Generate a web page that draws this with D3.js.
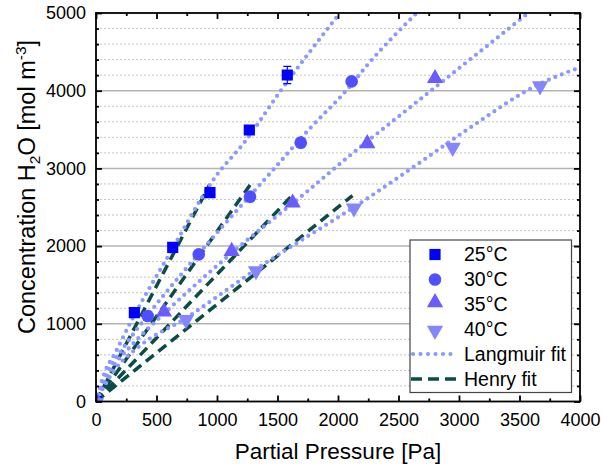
<!DOCTYPE html>
<html>
<head>
<meta charset="utf-8">
<script src="https://cdn.jsdelivr.net/npm/d3@7"></script>
<style>
  body { margin: 0; background: #fff; }
  svg text { font-family: "Liberation Sans", Arial, sans-serif; fill: #000; }
</style>
</head>
<body>
<div id="plot"></div>
<script>
// measured points [pressure Pa, concentration mol/m3]
const series = ["25°C", "30°C", "35°C", "40°C"];
const pts25 = [[0, 0], [317, 1143], [634, 1984], [942, 2688], [1267, 3494], [1581, 4202]];
const pts30 = [[0, 0], [427, 1100], [849, 1894], [1273, 2636], [1692, 3331], [2113, 4120]];
const pts35 = [[0, 0], [562, 1135], [1121, 1915], [1625, 2538], [2242, 3301], [2802, 4140]];
const pts40 = [[0, 0], [744, 1071], [1322, 1701], [2132, 2507], [2948, 3288], [3670, 4080]];
const err25 = [0, 0, 0, 0, 0, 110];

// Langmuir fit
const lang25 = [[0, 0], [74, 384], [157, 620], [281, 1006], [600, 1880], [992, 2902], [1231, 3344], [1521, 3988], [2003, 4974]];
const lang30 = [[0, 0], [100, 400], [230, 700], [427, 1110], [849, 1900], [1438, 2936], [1769, 3516], [2072, 4009], [2250, 4344], [2650, 5000]];
const lang35 = [[0, 0], [120, 400], [280, 700], [562, 1130], [1121, 1910], [1727, 2680], [2113, 3185], [2540, 3717], [2948, 4224], [3573, 5000]];
const lang40 = [[0, 0], [150, 400], [350, 700], [744, 1075], [1322, 1700], [2264, 2636], [2636, 3031], [3063, 3494], [3670, 4090], [4000, 4300]];

// Henry fit, straight lines from the origin
const henry25 = [[0, 0], [937, 2786]];
const henry30 = [[0, 0], [1273, 2786]];
const henry35 = [[0, 0], [1620, 2650]];
const henry40 = [[0, 0], [2120, 2650]];

const xTicks = [0, 500, 1000, 1500, 2000, 2500, 3000, 3500, 4000];
const yTicks = [0, 1000, 2000, 3000, 4000, 5000];

const colors = ["#0000ff", "#4f4fff", "#6a5cff", "#8585ff"];
const langColor = "#8a98ff";
const henryColor = "#0b4c47";

const w = 601, h = 469;
const mLeft = 96, mRight = 580, mTop = 13, mBottom = 401.5;
const font = "'Liberation Sans', Arial, sans-serif";

const svg = d3.select("#plot").append("svg")
  .attr("width", w).attr("height", h);

const x = d3.scaleLinear().domain([0, 4000]).range([mLeft, mRight]);
const y = d3.scaleLinear().domain([0, 5000]).range([mBottom, mTop]);

svg.append("clipPath").attr("id", "clip")
  .append("rect").attr("x", mLeft).attr("y", mTop)
  .attr("width", mRight - mLeft).attr("height", mBottom - mTop);

// grid
const minorY = d3.range(200, 5000, 200).filter(v => v % 1000 !== 0);
svg.append("g").selectAll("line").data(minorY).enter().append("line")
  .attr("x1", mLeft).attr("x2", mRight)
  .attr("y1", d => y(d)).attr("y2", d => y(d))
  .attr("stroke", "#c4c4c4").attr("stroke-width", 1)
  .attr("stroke-dasharray", "2 2");
svg.append("g").selectAll("line").data([1000, 2000, 3000, 4000]).enter().append("line")
  .attr("x1", mLeft).attr("x2", mRight)
  .attr("y1", d => y(d)).attr("y2", d => y(d))
  .attr("stroke", "#b4b4b4").attr("stroke-width", 1.5);

const plot = svg.append("g").attr("clip-path", "url(#clip)");
const line = d3.line().x(d => x(d[0])).y(d => y(d[1]));
const curve = d3.line().x(d => x(d[0])).y(d => y(d[1])).curve(d3.curveMonotoneX);

[henry25, henry30, henry35, henry40].forEach(d => {
  plot.append("path").attr("d", line(d))
    .attr("fill", "none").attr("stroke", henryColor)
    .attr("stroke-width", 3.5).attr("stroke-dasharray", "10 6");
});
[lang25, lang30, lang35, lang40].forEach(d => {
  plot.append("path").attr("d", curve(d))
    .attr("fill", "none").attr("stroke", langColor)
    .attr("stroke-width", 4.2).attr("stroke-linecap", "round")
    .attr("stroke-dasharray", "0 7");
});

// markers
const symbols = [d3.symbolSquare, d3.symbolCircle, d3.symbolTriangle, d3.symbolTriangle];
const sizes = [125, 125, 115, 115];
function marker(g, i, cx, cy) {
  const p = g.append("path")
    .attr("d", d3.symbol().type(symbols[i]).size(sizes[i])())
    .attr("fill", colors[i]);
  if (i === 3) p.attr("transform", `translate(${cx},${cy + 1.5}) rotate(180)`);
  else if (i === 2) p.attr("transform", `translate(${cx},${cy - 1.5})`);
  else p.attr("transform", `translate(${cx},${cy})`);
}

// error bars on 25°C
pts25.forEach((d, k) => {
  if (!err25[k]) return;
  const g = plot.append("g").attr("stroke", colors[0]).attr("stroke-width", 1.2);
  g.append("line").attr("x1", x(d[0])).attr("x2", x(d[0]))
    .attr("y1", y(d[1] - err25[k])).attr("y2", y(d[1] + err25[k]));
  [d[1] - err25[k], d[1] + err25[k]].forEach(v => {
    g.append("line").attr("x1", x(d[0]) - 4).attr("x2", x(d[0]) + 4)
      .attr("y1", y(v)).attr("y2", y(v));
  });
});

[pts25, pts30, pts35, pts40].forEach((pts, i) => {
  pts.forEach(d => marker(plot, i, x(d[0]), y(d[1])));
});

// frame and ticks
const frame = svg.append("g");
frame.append("rect").attr("x", mLeft).attr("y", mTop)
  .attr("width", mRight - mLeft).attr("height", mBottom - mTop)
  .attr("fill", "none").attr("stroke", "#000").attr("stroke-width", 1.8);

const fmt = d3.format("d");
const xAxis = d3.axisBottom(x).tickValues(xTicks).tickSizeInner(-6).tickSizeOuter(0)
  .tickPadding(12).tickFormat(fmt);
const gx = svg.append("g").attr("transform", `translate(0,${mBottom})`).call(xAxis);
const xAxisTop = d3.axisTop(x).tickValues(xTicks).tickSizeInner(-6).tickSizeOuter(0).tickFormat("");
const gxt = svg.append("g").attr("transform", `translate(0,${mTop})`).call(xAxisTop);
const minorX = d3.range(250, 4000, 500);
const gxm = svg.append("g").attr("transform", `translate(0,${mBottom})`)
  .call(d3.axisBottom(x).tickValues(minorX).tickSizeInner(-3).tickSizeOuter(0).tickFormat(""));
const gxmt = svg.append("g").attr("transform", `translate(0,${mTop})`)
  .call(d3.axisTop(x).tickValues(minorX).tickSizeInner(-3).tickSizeOuter(0).tickFormat(""));

const yAxis = d3.axisLeft(y).tickValues(yTicks).tickSizeInner(-6).tickSizeOuter(0)
  .tickPadding(10).tickFormat(fmt);
const gy = svg.append("g").attr("transform", `translate(${mLeft},0)`).call(yAxis);
const gyr = svg.append("g").attr("transform", `translate(${mRight},0)`)
  .call(d3.axisRight(y).tickValues(yTicks).tickSizeInner(-6).tickSizeOuter(0).tickFormat(""));
const gym = svg.append("g").attr("transform", `translate(${mLeft},0)`)
  .call(d3.axisLeft(y).tickValues(minorY).tickSizeInner(-3).tickSizeOuter(0).tickFormat(""));
const gymr = svg.append("g").attr("transform", `translate(${mRight},0)`)
  .call(d3.axisRight(y).tickValues(minorY).tickSizeInner(-3).tickSizeOuter(0).tickFormat(""));

[gx, gxt, gxm, gxmt, gy, gyr, gym, gymr].forEach(g => {
  g.select(".domain").remove();
  g.selectAll("line").attr("stroke", "#000").attr("stroke-width", 1.8);
  g.selectAll("text").attr("font-size", 18)
    .attr("font-family", font).attr("fill", "#000");
});
gx.selectAll("text").attr("dy", "0.71em");

// axis titles
svg.append("text").attr("x", (mLeft + mRight) / 2).attr("y", 459)
  .attr("text-anchor", "middle").attr("font-size", 22.5)
  .text("Partial Pressure [Pa]");

const yt = svg.append("text")
  .attr("transform", "translate(35,187) rotate(-90)")
  .attr("text-anchor", "middle").attr("font-size", 23.5);
yt.append("tspan").text("Concentration H");
yt.append("tspan").attr("font-size", 15.5).attr("dy", 5).text("2");
yt.append("tspan").attr("dy", -5).text("O [mol m");
yt.append("tspan").attr("font-size", 15.5).attr("dy", -9).text("-3");
yt.append("tspan").attr("dy", 9).text("]");

// legend
const lg = svg.append("g");
lg.append("rect").attr("x", 410).attr("y", 240).attr("width", 161.5).attr("height", 152.5)
  .attr("fill", "#fff").attr("stroke", "#444").attr("stroke-width", 1.2);
const rowY = [254.5, 279.5, 304, 329, 354, 379];
series.forEach((s, i) => {
  marker(lg, i, 435, rowY[i]);
  lg.append("text").attr("x", 464).attr("y", rowY[i]).attr("dy", "0.35em")
    .attr("font-size", 19.5).text(s);
});
lg.append("line").attr("x1", 413).attr("x2", 456).attr("y1", rowY[4]).attr("y2", rowY[4])
  .attr("stroke", langColor).attr("stroke-width", 4.2).attr("stroke-linecap", "round")
  .attr("stroke-dasharray", "0 7.5");
lg.append("text").attr("x", 464).attr("y", rowY[4]).attr("dy", "0.35em")
  .attr("font-size", 19.5).text("Langmuir fit");
lg.append("line").attr("x1", 411).attr("x2", 457).attr("y1", rowY[5]).attr("y2", rowY[5])
  .attr("stroke", henryColor).attr("stroke-width", 3.5)
  .attr("stroke-dasharray", "11 6");
lg.append("text").attr("x", 464).attr("y", rowY[5]).attr("dy", "0.35em")
  .attr("font-size", 19.5).text("Henry fit");
</script>
</body>
</html>
